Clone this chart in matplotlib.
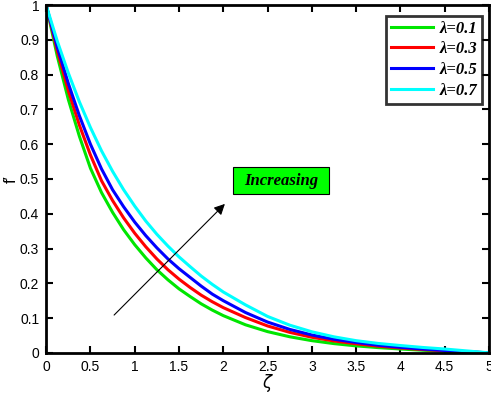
import matplotlib
matplotlib.use("Agg")
import matplotlib.pyplot as plt
from matplotlib.patches import Rectangle

zeta = [0, 0.125, 0.25, 0.375, 0.5, 0.625, 0.75, 0.875, 1, 1.125, 1.25,
        1.375, 1.5, 1.625, 1.75, 1.875, 2, 2.25, 2.5, 2.75, 3, 3.25, 3.5,
        3.75, 4, 4.25, 4.5, 4.75, 5]
f_l01 = [1, 0.854, 0.729, 0.623, 0.531, 0.461, 0.404, 0.354, 0.311, 0.273,
         0.239, 0.210, 0.184, 0.162, 0.141, 0.123, 0.107, 0.0807, 0.061,
         0.0462, 0.035, 0.0265, 0.020, 0.015, 0.011, 0.0075, 0.0045, 0.002, 0]
f_l03 = [1, 0.869, 0.754, 0.655, 0.569, 0.495, 0.438, 0.388, 0.344, 0.305,
         0.270, 0.239, 0.212, 0.188, 0.166, 0.147, 0.130, 0.1015, 0.0773,
         0.0589, 0.0448, 0.0341, 0.026, 0.019, 0.014, 0.0095, 0.0058, 0.0027, 0]
f_l05 = [1, 0.880, 0.775, 0.682, 0.600, 0.529, 0.469, 0.420, 0.376, 0.337,
         0.302, 0.270, 0.242, 0.217, 0.192, 0.169, 0.150, 0.116, 0.0885,
         0.0674, 0.0513, 0.039, 0.030, 0.022, 0.016, 0.011, 0.0068, 0.0032, 0]
f_l07 = [1, 0.897, 0.805, 0.722, 0.648, 0.581, 0.522, 0.469, 0.422, 0.379,
         0.341, 0.307, 0.276, 0.248, 0.221, 0.197, 0.175, 0.138, 0.1047,
         0.0796, 0.0605, 0.046, 0.035, 0.027, 0.021, 0.0155, 0.011, 0.0055, 0]
labels = ["λ=0.1", "λ=0.3", "λ=0.5", "λ=0.7"]
colors = ["#00e600", "#ff0000", "#0000ff", "#00ffff"]
xticks = [0, 0.5, 1, 1.5, 2, 2.5, 3, 3.5, 4, 4.5, 5]
yticks = [0, 0.1, 0.2, 0.3, 0.4, 0.5, 0.6, 0.7, 0.8, 0.9, 1]

plt.rcParams['font.family'] = ['Liberation Sans', 'DejaVu Sans']
fig = plt.figure(figsize=(4.91, 3.96), dpi=100)
ax = fig.add_axes([0.094, 0.109, 0.902, 0.878])

for ys, lab, c in zip([f_l01, f_l03, f_l05, f_l07], labels, colors):
    ax.plot(zeta, ys, color=c, lw=2.2, label=lab, solid_joinstyle='round')

ax.set_xlim(0, 5)
ax.set_ylim(0, 1)
ax.set_xticks(xticks)
ax.set_xticklabels([f"{t:g}" for t in xticks])
ax.set_yticks(yticks)
ax.set_yticklabels([f"{t:g}" for t in yticks])
ax.tick_params(direction='in', length=5, width=1.5, top=True, right=True,
               labelsize=10, colors='black', pad=5)
for s in ax.spines.values():
    s.set_linewidth(2)

ax.set_xlabel(r"$\zeta$", fontsize=12, labelpad=-1)
ax.set_ylabel("f′", fontsize=12, labelpad=1)

leg = ax.legend(loc='upper right', bbox_to_anchor=(0.984, 0.97),
                prop={'family': 'Liberation Serif', 'weight': 'bold',
                      'style': 'italic', 'size': 12},
                frameon=True, fancybox=False, handlelength=2.5,
                borderpad=0.3, labelspacing=0.28, handletextpad=0.4,
                borderaxespad=0)
leg.get_frame().set_edgecolor('black')
leg.get_frame().set_linewidth(2)

ax.annotate("", xy=(2.04, 0.434), xytext=(0.745, 0.103),
            arrowprops=dict(arrowstyle='-|>', color='black', lw=0.8,
                            mutation_scale=16))
ax.add_patch(Rectangle((2.11, 0.457), 1.08, 0.077, facecolor='#00ff00',
                       edgecolor='black', lw=0.8, zorder=3))
ax.text(2.65, 0.4955, "Increasing", ha='center', va='center', zorder=4,
        family='Liberation Serif', weight='bold', style='italic', fontsize=12)

fig.savefig("out.png", dpi=100)
